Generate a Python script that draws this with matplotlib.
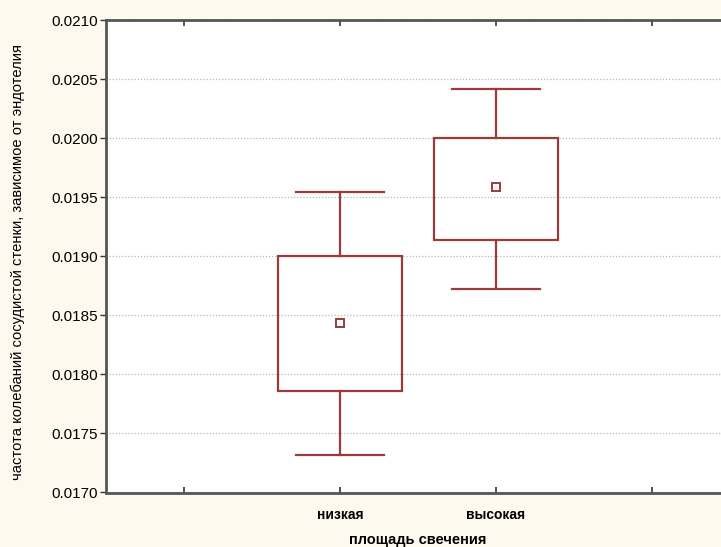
import matplotlib
matplotlib.use("Agg")
import matplotlib.pyplot as plt

plt.rcParams["font.family"] = ["Liberation Sans", "DejaVu Sans"]

categories = ["низкая", "высокая"]
means = [0.018435, 0.019586]
box_low = [0.017862, 0.019138]
box_high = [0.019002, 0.019999]
whisker_low = [0.017317, 0.018723]
whisker_high = [0.019546, 0.020413]

y_ticks = [0.0170, 0.0175, 0.0180, 0.0185, 0.0190, 0.0195, 0.0200, 0.0205, 0.0210]
x_label = "площадь свечения"
y_label = "частота колебаний сосудистой стенки, зависимое от эндотелия"

box_color = "#9c3b3b"
bg_color = "#fdf9ee"

fig = plt.figure(figsize=(7.21, 5.47), dpi=100, facecolor=bg_color)
ax = fig.add_axes([106 / 721, 1 - 492.5 / 547, 624 / 721, 472.5 / 547])
ax.set_facecolor("white")

positions = [1, 2]
box_w = 0.795
cap_w = 0.56
for x, m, lo, hi, wlo, whi in zip(positions, means, box_low, box_high, whisker_low, whisker_high):
    ax.add_patch(plt.Rectangle((x - box_w / 2, lo), box_w, hi - lo,
                               fill=False, edgecolor=box_color, linewidth=1.6, zorder=3))
    ax.plot([x, x], [hi, whi], color=box_color, linewidth=1.6, zorder=3)
    ax.plot([x, x], [lo, wlo], color=box_color, linewidth=1.6, zorder=3)
    ax.plot([x - cap_w / 2, x + cap_w / 2], [whi, whi], color=box_color, linewidth=1.6, zorder=3)
    ax.plot([x - cap_w / 2, x + cap_w / 2], [wlo, wlo], color=box_color, linewidth=1.6, zorder=3)
    ax.plot([x], [m], marker="s", markersize=5.5, markerfacecolor="white",
            markeredgecolor=box_color, markeredgewidth=1.4, zorder=4)

ax.set_xlim(-0.5, 3.5)
ax.set_ylim(0.0170, 0.0210)
ax.set_yticks(y_ticks)
ax.set_yticklabels([f"{v:.4f}" for v in y_ticks], fontsize=11)
ax.set_xticks([0, 1, 2, 3])
ax.set_xticklabels(["", categories[0], categories[1], ""], fontsize=10, fontweight="bold")
ax.tick_params(axis="x", direction="in", top=True, length=4, width=1.2, color="#333333", pad=11)
ax.tick_params(axis="y", direction="out", length=4, width=1.0, color="#333333", pad=2)
ax.yaxis.grid(True, linestyle=(0, (1, 1.5)), color="#b8b8b8", linewidth=0.9)
ax.set_axisbelow(True)

for side in ["left", "top", "bottom"]:
    ax.spines[side].set_color("#555555")
    ax.spines[side].set_linewidth(2.0)
ax.spines["right"].set_visible(False)

ax.set_xlabel(x_label, fontsize=10.5, fontweight="bold", labelpad=8)
fig.text(18 / 721, 1 - 262 / 547, y_label, rotation=90, fontsize=10.6,
         ha="center", va="center")

fig.savefig("out.png", dpi=100, facecolor=bg_color)
